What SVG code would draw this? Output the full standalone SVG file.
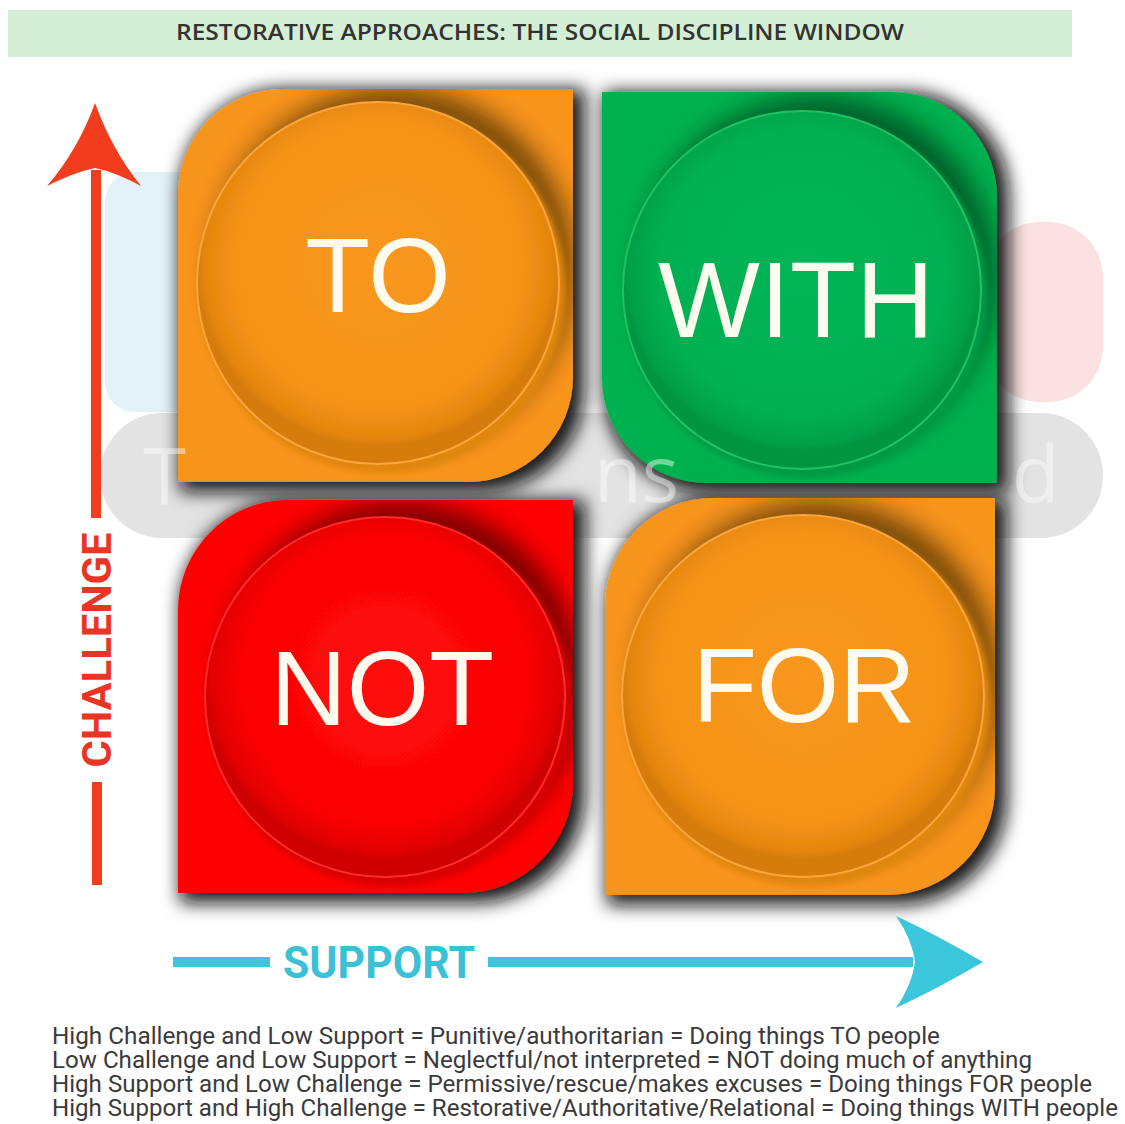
<svg xmlns="http://www.w3.org/2000/svg" xmlns:xlink="http://www.w3.org/1999/xlink" width="1125" height="1124" viewBox="0 0 1125 1124">
<style>
.lbl{font-family:"Liberation Sans",Arial,sans-serif;font-size:106px;fill:#fffbee;text-anchor:middle}
.note{font-family:Roboto,"Liberation Sans",sans-serif;font-size:23px;fill:#3a3a3a}
.wm{font-family:"Open Sans","Liberation Sans",sans-serif;font-size:78px;fill:#ffffff;opacity:0.45}
</style>
<defs>
<path id="p-to" d="M283 89 L573 89 L573 377 A105 105 0 0 1 468 482 L178 482 L178 194 A105 105 0 0 1 283 89 Z"/>
<path id="p-with" d="M602 92 L892 92 A105 105 0 0 1 997 197 L997 483 L707 483 A105 105 0 0 1 602 378 Z"/>
<path id="p-not" d="M288 500 L573 500 L573 783 A110 110 0 0 1 463 893 L178 893 L178 610 A110 110 0 0 1 288 500 Z"/>
<path id="p-for" d="M713 498 L995 498 L995 787 A108 108 0 0 1 887 895 L605 895 L605 606 A108 108 0 0 1 713 498 Z"/>
<clipPath id="c-to"><use xlink:href="#p-to"/></clipPath>
<clipPath id="c-with"><use xlink:href="#p-with"/></clipPath>
<clipPath id="c-not"><use xlink:href="#p-not"/></clipPath>
<clipPath id="c-for"><use xlink:href="#p-for"/></clipPath>
<filter id="qs" x="-20%" y="-20%" width="140%" height="140%">
<feMorphology in="SourceAlpha" operator="dilate" radius="5" result="d"/>
<feGaussianBlur in="d" stdDeviation="9"/>
<feOffset dx="7" dy="5" result="b"/>
<feFlood flood-color="#0e0e0e" flood-opacity="0.95"/>
<feComposite in2="b" operator="in"/>
<feMerge><feMergeNode/><feMergeNode in="SourceGraphic"/></feMerge>
</filter>
<filter id="cs" x="-30%" y="-30%" width="160%" height="160%"><feGaussianBlur stdDeviation="12"/></filter>
<filter id="rs" x="-10%" y="-10%" width="120%" height="120%"><feGaussianBlur stdDeviation="3"/></filter>
<radialGradient id="g-or" cx="50%" cy="45%" r="50%">
<stop offset="0" stop-color="#f9981e"/><stop offset="0.8" stop-color="#f49317"/><stop offset="0.96" stop-color="#e4860e"/><stop offset="1" stop-color="#d67c0a"/>
</radialGradient>
<radialGradient id="g-gr" cx="50%" cy="45%" r="50%">
<stop offset="0" stop-color="#03b555"/><stop offset="0.8" stop-color="#01b051"/><stop offset="0.96" stop-color="#00a149"/><stop offset="1" stop-color="#009541"/>
</radialGradient>
<radialGradient id="g-rd" cx="50%" cy="45%" r="50%">
<stop offset="0" stop-color="#ff0a0a"/><stop offset="0.8" stop-color="#fa0404"/><stop offset="0.96" stop-color="#e20000"/><stop offset="1" stop-color="#cf0000"/>
</radialGradient>
</defs>
<rect width="1125" height="1124" fill="#ffffff"/>
<g id="title">
<rect x="8" y="10" width="1064" height="47" fill="#d5efd6"/>
<text x="540" y="40" text-anchor="middle" textLength="728" lengthAdjust="spacingAndGlyphs" style="font-family:'Open Sans','Liberation Sans',sans-serif;font-size:22px;font-weight:600;fill:#333333">RESTORATIVE APPROACHES: THE SOCIAL DISCIPLINE WINDOW</text>
</g>
<g id="watermark">
<rect x="105" y="172" width="125" height="240" rx="30" fill="#e3f1f8"/>
<rect x="985" y="222" width="118" height="180" rx="55" fill="#fbe1e1"/>
<rect x="100" y="413" width="1003" height="125" rx="62" fill="#e3e3e3"/>
</g>
<g id="to" filter="url(#qs)">
<use xlink:href="#p-to" fill="#f7941d"/>
<g clip-path="url(#c-to)">
<circle cx="394" cy="268" r="181" fill="#2a1a05" opacity="0.6" filter="url(#cs)"/>
<circle cx="383" cy="290" r="183" fill="#e08610" filter="url(#rs)"/>
</g>
<circle cx="378" cy="283" r="181" fill="url(#g-or)" stroke="#fba53c" stroke-width="2"/>
<text class="lbl" x="378" y="312">TO</text>
</g>
<g id="with" filter="url(#qs)">
<use xlink:href="#p-with" fill="#03b150"/>
<g clip-path="url(#c-with)">
<circle cx="818" cy="275" r="179" fill="#002a10" opacity="0.6" filter="url(#cs)"/>
<circle cx="807" cy="297" r="181" fill="#009a45" filter="url(#rs)"/>
</g>
<circle cx="802" cy="290" r="179" fill="url(#g-gr)" stroke="#1ec465" stroke-width="2"/>
<text class="lbl" x="796" y="337" style="font-size:108px">WITH</text>
</g>
<g id="not" filter="url(#qs)">
<use xlink:href="#p-not" fill="#fe0000"/>
<g clip-path="url(#c-not)">
<circle cx="401" cy="682" r="180" fill="#2a0000" opacity="0.6" filter="url(#cs)"/>
<circle cx="390" cy="704" r="182" fill="#d80000" filter="url(#rs)"/>
</g>
<circle cx="385" cy="697" r="180" fill="url(#g-rd)" stroke="#ff2b2b" stroke-width="2"/>
<text class="lbl" x="382" y="725">NOT</text>
</g>
<g id="for" filter="url(#qs)">
<use xlink:href="#p-for" fill="#f7941d"/>
<g clip-path="url(#c-for)">
<circle cx="819" cy="681" r="181" fill="#2a1a05" opacity="0.6" filter="url(#cs)"/>
<circle cx="808" cy="703" r="183" fill="#e08610" filter="url(#rs)"/>
</g>
<circle cx="803" cy="696" r="181" fill="url(#g-or)" stroke="#fba53c" stroke-width="2"/>
<text class="lbl" x="804" y="722">FOR</text>
</g>
<g id="watermark-text">
<text class="wm" x="143" y="505">T</text>
<text class="wm" x="594" y="502">ns</text>
<text class="wm" x="1012" y="502">d</text>
</g>
<g id="connectors">
<g id="challenge-axis">
<rect x="91" y="170" width="10" height="348" fill="#f23c1e"/>
<rect x="92" y="782" width="10" height="103" fill="#f23c1e"/>
<path d="M95 103 Q112 150 141 186 Q115 172 95 168 Q75 172 47 186 Q78 150 95 103 Z" fill="#f23c1e"/>
<text transform="translate(111,650) rotate(-90)" text-anchor="middle" textLength="235" lengthAdjust="spacingAndGlyphs" style="font-family:Roboto,'Liberation Sans',sans-serif;font-weight:bold;font-size:41px;fill:#ea3526">CHALLENGE</text>
</g>
<g id="support-axis">
<rect x="173" y="957" width="97" height="10" fill="#3cc6db"/>
<rect x="488" y="957" width="425" height="10" fill="#3cc6db"/>
<path d="M983 962 Q935 990 896 1008 Q912 985 915 962 Q912 939 896 916 Q935 934 983 962 Z" fill="#3cc6db"/>
<text x="379" y="978" text-anchor="middle" textLength="192" lengthAdjust="spacingAndGlyphs" style="font-family:Roboto,'Liberation Sans',sans-serif;font-weight:bold;font-size:45px;fill:#3cc0d6">SUPPORT</text>
</g>
</g>
<g id="notes">
<text class="note" x="52" y="1044" textLength="888" lengthAdjust="spacingAndGlyphs">High Challenge and Low Support = Punitive/authoritarian = Doing things TO people</text>
<text class="note" x="52" y="1068" textLength="980" lengthAdjust="spacingAndGlyphs">Low Challenge and Low Support = Neglectful/not interpreted = NOT doing much of anything</text>
<text class="note" x="52" y="1092" textLength="1040" lengthAdjust="spacingAndGlyphs">High Support and Low Challenge = Permissive/rescue/makes excuses = Doing things FOR people</text>
<text class="note" x="52" y="1116" textLength="1066" lengthAdjust="spacingAndGlyphs">High Support and High Challenge = Restorative/Authoritative/Relational = Doing things WITH people</text>
</g>
</svg>
